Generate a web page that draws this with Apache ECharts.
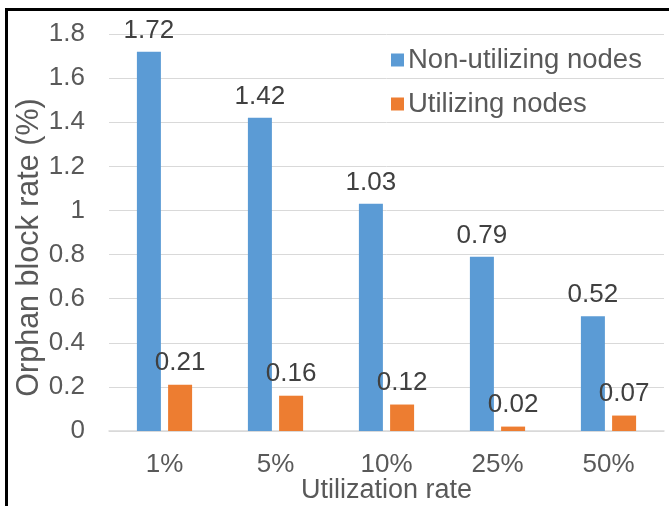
<!DOCTYPE html>
<html>
<head>
<meta charset="utf-8">
<script src="https://cdn.jsdelivr.net/npm/echarts@6/dist/echarts.min.js"></script>
<style>
html,body{margin:0;padding:0;background:#fff;overflow:hidden;width:669px;height:506px;}
#frame{position:absolute;left:5px;top:8px;width:664px;height:498px;border-left:3px solid #000;border-top:3px solid #000;box-sizing:border-box;}
#chart{position:absolute;left:0;top:0;width:669px;height:506px;}
</style>
</head>
<body>
<div id="frame"></div>
<div id="chart"></div>
<script>
const categories = ['1%', '5%', '10%', '25%', '50%'];
const nonUtilizing = [1.72, 1.42, 1.03, 0.79, 0.52];
const utilizing = [0.21, 0.16, 0.12, 0.02, 0.07];
const seriesNames = ['Non-utilizing nodes', 'Utilizing nodes'];

const font = 'Liberation Sans, Arial, sans-serif';
const chart = echarts.init(document.getElementById('chart'), null, {renderer: 'canvas'});
chart.setOption({
  animation: false,
  backgroundColor: 'transparent',
  textStyle: {fontFamily: font},
  grid: {left: 109, right: 5, top: 34, bottom: 75, containLabel: false, outerBoundsMode: 'none'},
  legend: {
    orient: 'vertical', left: 386, top: 41, itemGap: 16,
    itemWidth: 13, itemHeight: 13, icon: 'rect',
    textStyle: {fontSize: 27.5, color: '#595959', fontFamily: font, padding: [0,0,0,-1]},
    data: seriesNames
  },
  xAxis: {
    type: 'category', data: categories,
    axisLine: {lineStyle: {color: '#d9d9d9', width: 1.5}},
    axisTick: {show: false},
    axisLabel: {fontSize: 26, color: '#595959', margin: 21, fontFamily: font},
    name: 'Utilization rate', nameLocation: 'middle', nameGap: 46, nameMoveOverlap: false,
    nameTextStyle: {fontSize: 27, color: '#595959', fontFamily: font}
  },
  yAxis: {
    type: 'value', min: 0, max: 1.8, interval: 0.2,
    axisLine: {show: false}, axisTick: {show: false},
    splitLine: {lineStyle: {color: '#d9d9d9', width: 1}},
    axisLabel: {fontSize: 26, color: '#595959', margin: 24, fontFamily: font},
    name: 'Orphan block rate (%)', nameLocation: 'middle', nameGap: 64, nameMoveOverlap: false,
    nameTextStyle: {fontSize: 30.5, color: '#595959', fontFamily: font, padding: [0, 30, 0, 0]}
  },
  series: [
    {
      name: seriesNames[0], type: 'bar', data: nonUtilizing,
      barWidth: 24, barGap: '30%',
      itemStyle: {color: '#5B9BD5'},
      label: {show: true, position: 'top', distance: 8, fontSize: 26, color: '#404040', fontFamily: font}
    },
    {
      name: seriesNames[1], type: 'bar', data: utilizing,
      barWidth: 24,
      itemStyle: {color: '#ED7D31'},
      label: {show: true, position: 'top', distance: 9, fontSize: 26, color: '#404040', fontFamily: font}
    }
  ]
});
</script>
</body>
</html>
